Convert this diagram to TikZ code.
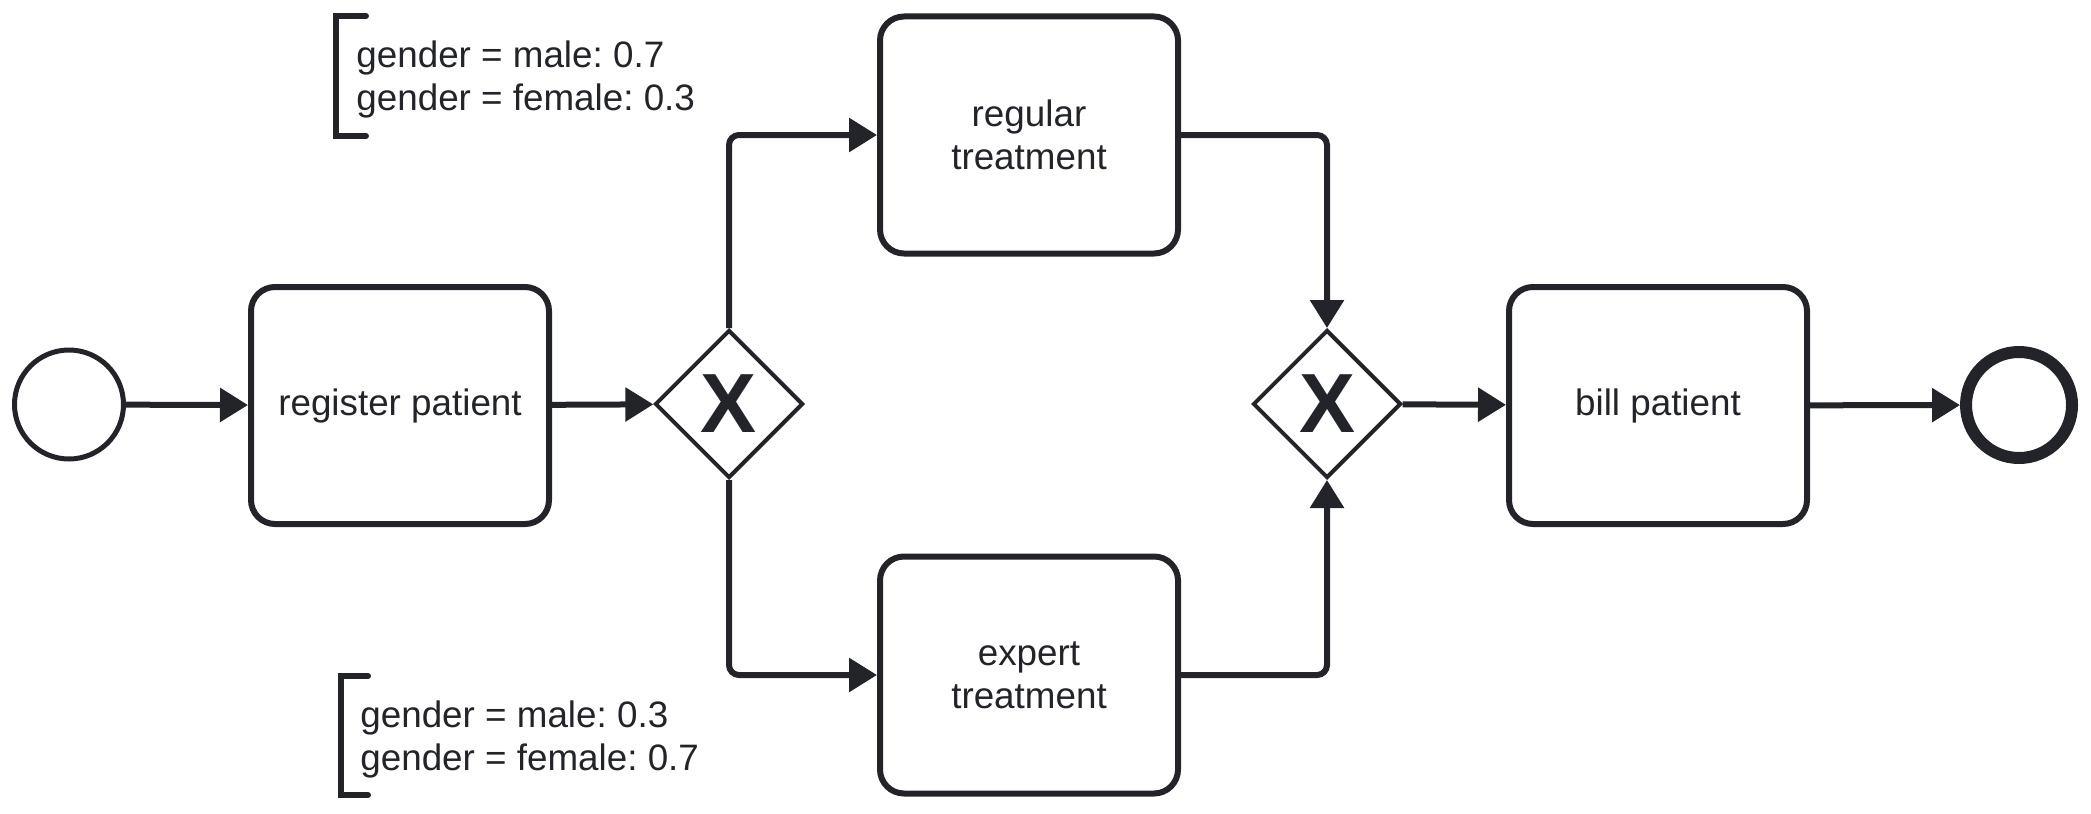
\documentclass[tikz,border=0pt]{standalone}
\usepackage{fontspec}
\setmainfont{Liberation Sans}
\usetikzlibrary{shapes.geometric,arrows.meta}
\definecolor{ink}{RGB}{34,36,41}
\frenchspacing
\begin{document}
\begin{tikzpicture}[x=0.5pt,y=-0.5pt,
  lbl/.style={text=ink, font=\fontsize{18.4}{21.5}\selectfont},
  task/.style={lbl, draw=ink, line width=3pt, rounded corners=12pt, minimum width=149pt, minimum height=118.5pt, inner sep=0pt, align=center},
  gateway/.style={diamond, aspect=1, draw=ink, line width=2pt, minimum width=74pt, minimum height=74pt, inner sep=0pt, text=ink, font=\fontsize{42}{42}\selectfont\bfseries},
  startev/.style={circle, draw=ink, line width=2.5pt, minimum size=54.5pt, inner sep=0pt},
  endev/.style={circle, draw=ink, line width=6pt, minimum size=53pt, inner sep=0pt},
  flow/.style={draw=ink, line width=3pt, rounded corners=5pt, -{Triangle[length=14pt,width=16.5pt]}},
  bracket/.style={draw=ink, line width=3pt, line cap=round},
  annot/.style={lbl, anchor=west, inner sep=0pt, align=left}
]
\useasboundingbox (0,0) rectangle (2091,813);
\node[startev] (start) at (69,404.5) {};
\node[task] (reg) at (400,405.5) {register patient};
\node[gateway] (g1) at (729,404) {X};
\node[task] (regt) at (1029,135) {regular\\treatment};
\node[task] (expt) at (1029,675) {expert\\treatment};
\node[gateway] (g2) at (1327,404) {X};
\node[task] (bill) at (1658,405.5) {bill patient};
\node[endev] (end) at (2019,405) {};

\draw[flow] (start) -- (reg);
\draw[flow] (reg) -- (g1);
\draw[flow] (g1.north) |- (regt.west);
\draw[flow] (g1.south) |- (expt.west);
\draw[flow] (regt.east) -| (g2.north);
\draw[flow] (expt.east) -| (g2.south);
\draw[flow] (g2) -- (bill);
\draw[flow] (bill) -- (end);

\node[annot] (ann1) at (356,79) {gender = male: 0.7\\gender = female: 0.3};
\draw[bracket] (366,16) -- (336,16) -- (336,136) -- (366,136);
\node[annot] (ann2) at (360,739) {gender = male: 0.3\\gender = female: 0.7};
\draw[bracket] (368,676) -- (341,676) -- (341,795) -- (368,795);
\end{tikzpicture}
\end{document}
